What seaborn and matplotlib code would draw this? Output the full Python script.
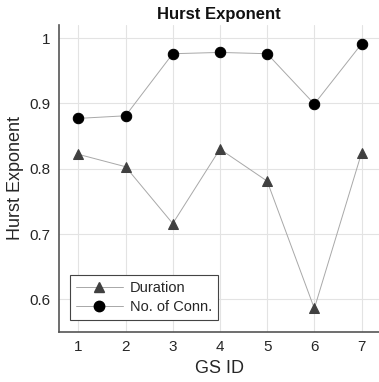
import matplotlib
matplotlib.use("Agg")
import matplotlib.pyplot as plt
import seaborn as sns
import pandas as pd
from matplotlib.lines import Line2D

gs_id = [1, 2, 3, 4, 5, 6, 7]
duration = [0.822, 0.803, 0.716, 0.830, 0.781, 0.586, 0.824]
no_of_conn = [0.877, 0.881, 0.976, 0.978, 0.976, 0.899, 0.991]
series_names = ["Duration", "No. of Conn."]
y_ticks = [0.6, 0.7, 0.8, 0.9, 1.0]
y_tick_labels = ["0.6", "0.7", "0.8", "0.9", "1"]

df = pd.DataFrame({
    "GS ID": gs_id * 2,
    "Hurst": duration + no_of_conn,
    "Series": [series_names[0]] * len(gs_id) + [series_names[1]] * len(gs_id),
})

sns.set_style("whitegrid")
plt.rcParams["font.family"] = ["Liberation Sans", "DejaVu Sans"]

fig = plt.figure(figsize=(3.79, 3.82), dpi=100)
ax = fig.add_axes([0.1557, 0.1309, 0.8443, 0.8037])

sns.lineplot(
    data=df, x="GS ID", y="Hurst", hue="Series", style="Series",
    palette={"Duration": "#a8a8a8", "No. of Conn.": "#a8a8a8"},
    markers={"Duration": "^", "No. of Conn.": "o"},
    dashes={"Duration": "", "No. of Conn.": ""},
    linewidth=0.7, markersize=7.5, ax=ax, legend=False,
)
for line, fc in zip(ax.lines, ["#404040", "#000000"]):
    line.set_markerfacecolor(fc)
    line.set_markeredgecolor(fc)

ax.set_xlim(0.59, 7.37)
ax.set_ylim(0.55, 1.02)
ax.set_xticks(gs_id)
ax.set_yticks(y_ticks)
ax.set_yticklabels(y_tick_labels)
ax.tick_params(axis="both", labelsize=11, colors="#262626", direction="in", length=3, width=0.6, pad=6)
ax.grid(True, color="#e3e3e3", linewidth=0.8)
for s in ["top", "right"]:
    ax.spines[s].set_visible(False)
for s in ["left", "bottom"]:
    ax.spines[s].set_color("#555555")
    ax.spines[s].set_linewidth(1.2)

ax.set_xlabel("GS ID", fontsize=13, color="#262626", labelpad=4)
ax.set_ylabel("Hurst Exponent", fontsize=13, color="#262626", labelpad=4)
ax.set_title("Hurst Exponent", fontsize=12, fontweight="bold", color="#111111", pad=4)

handles = [
    Line2D([], [], color="#a8a8a8", lw=0.7, marker="^", markersize=7.5,
           markerfacecolor="#404040", markeredgecolor="#404040"),
    Line2D([], [], color="#a8a8a8", lw=0.7, marker="o", markersize=7.5,
           markerfacecolor="#000000", markeredgecolor="#000000"),
]
leg = ax.legend(handles, series_names, loc="lower left", bbox_to_anchor=(0.035, 0.04),
                fontsize=10.5, frameon=True, fancybox=False, framealpha=1,
                edgecolor="#444444", handlelength=3.2, borderpad=0.4,
                labelspacing=0.35, handletextpad=0.5, borderaxespad=0)
leg.get_frame().set_linewidth(0.8)

fig.savefig("out.png", dpi=100)
